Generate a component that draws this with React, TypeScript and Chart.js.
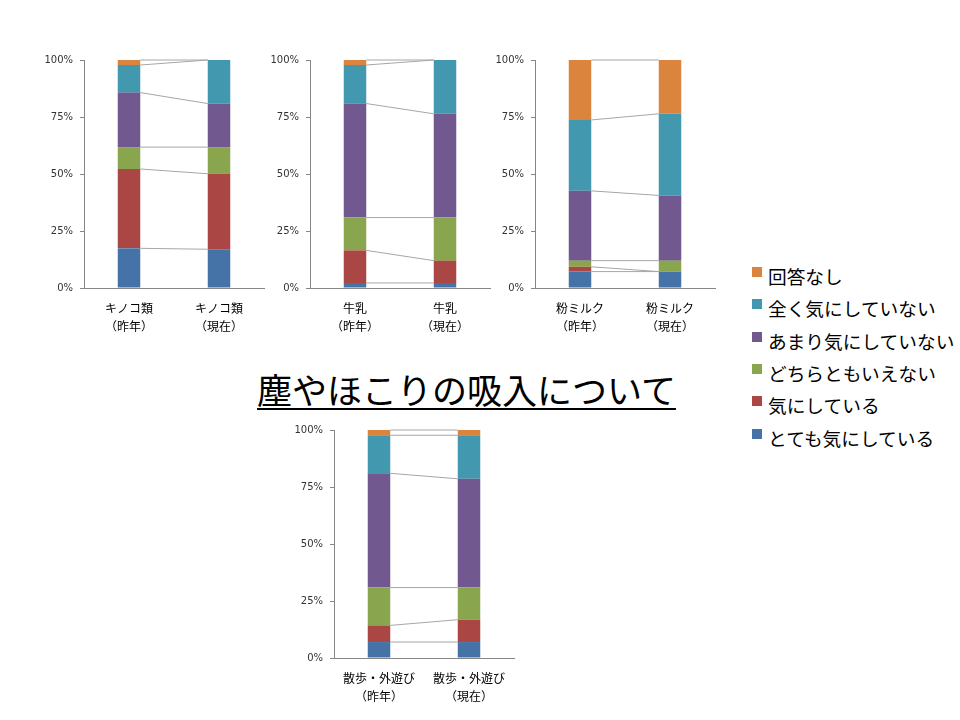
import React, { useEffect, useRef } from 'react';
import { Chart, registerables } from 'chart.js';

Chart.register(...registerables);

// ---- data ----
const seriesNames = ['とても気にしている', '気にしている', 'どちらともいえない', 'あまり気にしていない', '全く気にしていない', '回答なし'];
const seriesColors = ['#4572A7', '#AA4643', '#89A54E', '#71588F', '#4198AF', '#DB843D'];
const periodLabels = ['（昨年）', '（現在）'];
const yTickLabels = ['0%', '25%', '50%', '75%', '100%'];
const itemNames = ['キノコ類', '牛乳', '粉ミルク', '散歩・外遊び'];

// values per series (bottom → top), percentages
const kinokoLastYear = [17.4, 34.8, 9.6, 23.9, 12.1, 2.2];
const kinokoNow = [17.0, 33.1, 11.7, 19.1, 19.1, 0];
const milkLastYear = [2.2, 14.3, 14.4, 50.0, 16.9, 2.2];
const milkNow = [2.2, 9.8, 18.9, 45.5, 23.6, 0];
const powderLastYear = [7.2, 2.1, 2.7, 30.6, 31.1, 26.3];
const powderNow = [7.2, 0, 4.8, 28.6, 35.8, 23.6];
const walkLastYear = [7.0, 7.3, 16.6, 50.1, 16.7, 2.3];
const walkNow = [7.0, 9.8, 14.1, 47.7, 19.1, 2.3];

const chartTitle = '塵やほこりの吸入について';

// ---- layout (plot areas in page px) ----
const layouts = [
  { plotLeft: 84, plotRight: 264, plotTop: 60, plotBottom: 288 },
  { plotLeft: 310, plotRight: 490, plotTop: 60, plotBottom: 288 },
  { plotLeft: 535, plotRight: 715, plotTop: 60, plotBottom: 288 },
  { plotLeft: 334, plotRight: 514, plotTop: 430, plotBottom: 658 },
];

const Y_AXIS_W = 64;
const X_AXIS_H = 52;
const PAD_TOP = 16;
const PAD_RIGHT = 6;

const seriesLinesPlugin = {
  id: 'seriesLines',
  afterDatasetsDraw(chart: any) {
    const ctx = chart.ctx;
    ctx.save();
    ctx.strokeStyle = '#A6A6A6';
    ctx.lineWidth = 1;
    chart.data.datasets.forEach((_: any, i: number) => {
      const meta = chart.getDatasetMeta(i);
      const a = meta.data[0];
      const b = meta.data[1];
      if (!a || !b) return;
      ctx.beginPath();
      ctx.moveTo(a.x + a.width / 2, a.y);
      ctx.lineTo(b.x - b.width / 2, b.y);
      ctx.stroke();
    });
    ctx.restore();
  },
};

function StackChart({ name, lastYear, now, layout }: any) {
  const ref = useRef<HTMLCanvasElement>(null);
  const width = layout.plotRight - layout.plotLeft + Y_AXIS_W + PAD_RIGHT;
  const height = layout.plotBottom - layout.plotTop + PAD_TOP + X_AXIS_H;
  useEffect(() => {
    if (!ref.current) return;
    const chart = new Chart(ref.current, {
      type: 'bar',
      data: {
        labels: periodLabels.map((p) => [name, p]),
        datasets: seriesNames.map((s, i) => ({
          label: s,
          data: [lastYear[i], now[i]],
          backgroundColor: seriesColors[i],
          borderWidth: 0,
          barPercentage: 0.25,
          categoryPercentage: 1,
        })),
      },
      options: {
        responsive: false,
        animation: false,
        devicePixelRatio: 1,
        layout: { padding: { top: PAD_TOP, right: PAD_RIGHT, left: 0, bottom: 0 } },
        plugins: { legend: { display: false }, tooltip: { enabled: false }, title: { display: false } },
        scales: {
          x: {
            stacked: true,
            grid: { display: true, drawOnChartArea: false, drawTicks: false, color: '#868686' },
            border: { display: true, color: '#868686', width: 1 },
            ticks: {
              font: { family: "'Noto Sans CJK JP', sans-serif", size: 12, lineHeight: 1.5 },
              color: '#000000',
              padding: 11,
              maxRotation: 0,
              autoSkip: false,
            },
            afterFit: (s: any) => { s.height = X_AXIS_H; },
          },
          y: {
            stacked: true,
            min: 0,
            max: 100,
            grid: { display: true, drawOnChartArea: false, drawTicks: true, tickLength: 4, color: '#868686' },
            border: { display: true, color: '#868686', width: 1 },
            ticks: {
              stepSize: 25,
              font: { family: "'DejaVu Sans', sans-serif", size: 10 },
              color: '#333333',
              padding: 7,
              callback: (v: any) => yTickLabels[Math.round(Number(v) / 25)],
            },
            afterFit: (s: any) => { s.width = Y_AXIS_W; },
          },
        },
      },
      plugins: [seriesLinesPlugin],
    });
    return () => chart.destroy();
  }, []);
  return (
    <canvas
      ref={ref}
      width={width}
      height={height}
      style={{
        position: 'absolute',
        left: layout.plotLeft - Y_AXIS_W,
        top: layout.plotTop - PAD_TOP,
        width,
        height,
      }}
    />
  );
}

export default function App() {
  const values = [
    [kinokoLastYear, kinokoNow],
    [milkLastYear, milkNow],
    [powderLastYear, powderNow],
    [walkLastYear, walkNow],
  ];
  const legendOrder = [5, 4, 3, 2, 1, 0];
  return (
    <div style={{ position: 'absolute', left: 0, top: 0, width: 960, height: 720, background: '#fff', overflow: 'hidden' }}>
      {itemNames.map((n, i) => (
        <StackChart key={n} name={n} lastYear={values[i][0]} now={values[i][1]} layout={layouts[i]} />
      ))}
      <div
        style={{
          position: 'absolute',
          left: 257,
          top: 371,
          fontFamily: "'Noto Sans CJK JP', sans-serif",
          fontSize: 35,
          lineHeight: '35px',
          color: '#000',
          whiteSpace: 'nowrap',
          textDecoration: 'underline',
          textDecorationThickness: '2px',
          textUnderlineOffset: '4px',
        }}
      >
        {chartTitle}
      </div>
      {legendOrder.map((si, row) => {
        const top = 267 + row * 32.3;
        return (
          <React.Fragment key={si}>
            <div style={{ position: 'absolute', left: 752, top, width: 10, height: 10, background: seriesColors[si] }} />
            <div
              style={{
                position: 'absolute',
                left: 768,
                top: top - 4,
                fontFamily: "'Noto Sans CJK JP', sans-serif",
                fontSize: 18.7,
                lineHeight: '26px',
                color: '#000',
                whiteSpace: 'nowrap',
              }}
            >
              {seriesNames[si]}
            </div>
          </React.Fragment>
        );
      })}
    </div>
  );
}
